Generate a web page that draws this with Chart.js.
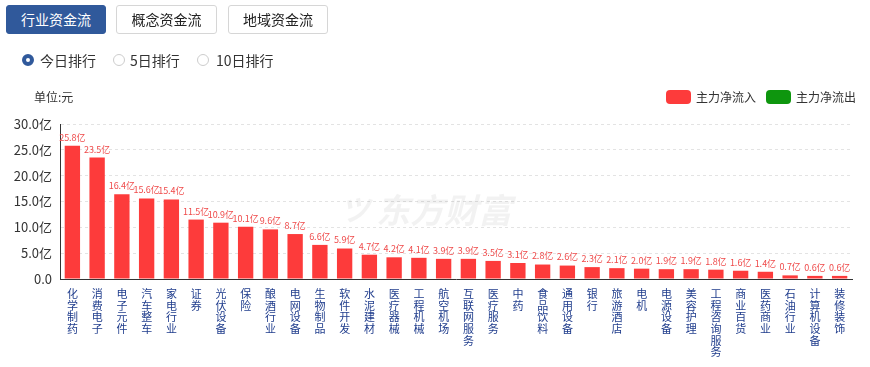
<!DOCTYPE html>
<html>
<head>
<meta charset="utf-8">
<script src="https://cdn.jsdelivr.net/npm/chart.js@4"></script>
<style>
  body { margin: 0; width: 870px; height: 367px; overflow: hidden; background: #fff;
         font-family: "Noto Sans CJK SC", "Noto Sans", sans-serif; color: #333; }
  .wrap { position: relative; width: 870px; height: 367px; }
  #chartBox { position: absolute; left: 0; top: 0; width: 870px; height: 367px; }
  .btn { position: absolute; top: 5px; height: 29px; box-sizing: border-box; border: 1px solid #d6d6d6;
         border-radius: 3px; font-size: 14px; line-height: 27px; text-align: center; color: #222; background: #fff; }
  .btn.active { background: #30599b; border-color: #30599b; color: #fff; }
  .radio { position: absolute; top: 51px; font-size: 14px; line-height: 18px; color: #333; }
  .radio i { position: absolute; left: 0; top: 3px; width: 12px; height: 12px; box-sizing: border-box;
             border: 1px solid #ccc; border-radius: 50%; background: #fff; }
  .radio.on i { border: 4px solid #30599b; }
  .radio span { position: absolute; white-space: nowrap; }
  .unit { position: absolute; left: 34px; top: 88px; font-size: 12px; color: #333; }
  .leg { position: absolute; top: 90px; width: 25px; height: 14px; border-radius: 4px; }
  .legt { position: absolute; top: 88px; font-size: 12px; color: #333; }
</style>
</head>
<body>
<div class="wrap">
  <div id="chartBox"><canvas id="chart1"></canvas></div>
  <div class="btn active" style="left:6px;width:100px">行业资金流</div>
  <div class="btn" style="left:116px;width:101px">概念资金流</div>
  <div class="btn" style="left:228px;width:100px">地域资金流</div>

  <div class="radio on" style="left:22px"><i></i><span style="left:18px">今日排行</span></div>
  <div class="radio" style="left:113px"><i></i><span style="left:17px">5日排行</span></div>
  <div class="radio" style="left:197px"><i></i><span style="left:19px">10日排行</span></div>

  <div class="unit">单位:元</div>
  <div class="leg" style="left:666px;background:#fd3b3b"></div>
  <div class="legt" style="left:696px">主力净流入</div>
  <div class="leg" style="left:766px;background:#0e960e"></div>
  <div class="legt" style="left:796px">主力净流出</div>
</div>
<script>
// 行业名称
const categories = ['化学制药', '消费电子', '电子元件', '汽车整车', '家电行业', '证券', '光伏设备', '保险',
  '酿酒行业', '电网设备', '生物制品', '软件开发', '水泥建材', '医疗器械', '工程机械', '航空机场',
  '互联网服务', '医疗服务', '中药', '食品饮料', '通用设备', '银行', '旅游酒店', '电机',
  '电源设备', '美容护理', '工程咨询服务', '商业百货', '医药商业', '石油行业', '计算机设备', '装修装饰'];

// 主力净流入（亿）
const inflow = [25.8, 23.5, 16.4, 15.6, 15.4, 11.5, 10.9, 10.1,
  9.6, 8.7, 6.6, 5.9, 4.7, 4.2, 4.1, 3.9,
  3.9, 3.5, 3.1, 2.8, 2.6, 2.3, 2.1, 2.0,
  1.9, 1.9, 1.8, 1.6, 1.4, 0.7, 0.6, 0.6];

const yTicks = [0, 5, 10, 15, 20, 25, 30];

// 水印
const watermark = {
  id: 'watermark',
  beforeDatasetsDraw(chart) {
    const ctx = chart.ctx;
    ctx.save();
    ctx.fillStyle = 'rgba(0,0,0,0.05)';
    ctx.font = 'italic bold 34px "Noto Sans CJK SC"';
    ctx.textAlign = 'left';
    ctx.textBaseline = 'middle';
    ctx.fillText('东方财富', 376, 210);
    ctx.font = 'italic bold 30px "Noto Sans CJK SC"';
    ctx.fillText('ツ', 340, 210);
    ctx.restore();
  }
};

// 柱顶数值
const valueLabels = {
  id: 'valueLabels',
  afterDatasetsDraw(chart) {
    const ctx = chart.ctx;
    const meta = chart.getDatasetMeta(0);
    ctx.save();
    ctx.fillStyle = '#ef4a4a';
    ctx.font = '9px "Noto Sans CJK SC"';
    ctx.textAlign = 'center';
    ctx.textBaseline = 'bottom';
    meta.data.forEach((bar, i) => {
      ctx.fillText(inflow[i].toFixed(1) + '亿', bar.x, bar.y - 4);
    });
    ctx.restore();
  }
};

new Chart(document.getElementById('chart1'), {
  type: 'bar',
  data: {
    labels: categories.map(c => c.split('')),
    datasets: [{
      label: '主力净流入',
      data: inflow,
      backgroundColor: '#fd3b3b',
      barPercentage: 0.62,
      categoryPercentage: 1
    }]
  },
  options: {
    responsive: true,
    maintainAspectRatio: false,
    animation: false,
    layout: { padding: { top: 124, right: 18, left: 0, bottom: 0 } },
    plugins: { legend: { display: false }, tooltip: { enabled: false } },
    scales: {
      x: {
        grid: { display: false, drawTicks: false },
        border: { display: true, color: '#333', width: 1 },
        ticks: {
          autoSkip: false, maxRotation: 0, minRotation: 0, padding: 9,
          color: '#1f3c8c',
          font: { size: 11, family: '"Noto Sans CJK SC"', lineHeight: 1.06 }
        },
        afterFit(scale) { scale.height = 88; scale.paddingLeft = 0; scale.paddingRight = 0; }
      },
      y: {
        min: 0, max: 30,
        afterBuildTicks(scale) { scale.ticks = yTicks.map(v => ({ value: v })); },
        grid: {
          drawTicks: false,
          color: ctx => ctx.tick && ctx.tick.value === 0 ? 'rgba(0,0,0,0)' : '#e3e3e3'
        },
        border: { display: true, color: '#333', width: 1, dash: [3, 3] },
        ticks: {
          padding: 8, color: '#333',
          font: { size: 13, family: '"Noto Sans CJK SC"' },
          callback: v => v === 0 ? '0.0' : v.toFixed(1) + '亿'
        },
        afterFit(scale) { scale.width = 60; scale.paddingTop = 0; scale.paddingBottom = 0; }
      }
    }
  },
  plugins: [watermark, valueLabels]
});
</script>
</body>
</html>
